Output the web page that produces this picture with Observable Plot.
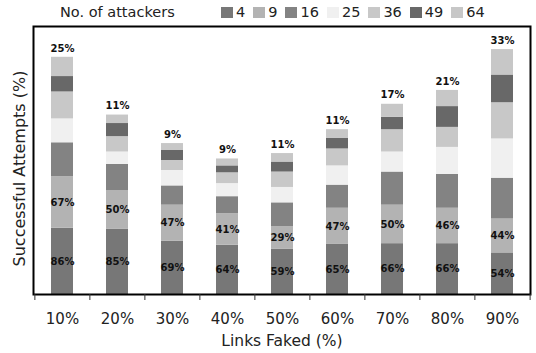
<!DOCTYPE html>
<html>
<head>
<meta charset="utf-8">
<script src="https://cdn.jsdelivr.net/npm/d3@7"></script>
<script src="https://cdn.jsdelivr.net/npm/@observablehq/plot@0.6"></script>
<style>
  html, body { margin: 0; padding: 0; background: #fff; }
  body { width: 536px; height: 353px; overflow: hidden; font-family: "DejaVu Sans", sans-serif; }
  #legend { position: relative; height: 25px; color: #222; font-size: 14.5px; }
  #legend .title { position: absolute; left: 60px; top: 4px; }
  #legend .items { position: absolute; left: 221px; top: 4px; display: flex; align-items: center; }
  #legend .item { display: flex; align-items: center; margin-right: 8px; }
  #legend .sw { width: 12px; height: 11px; margin-right: 3px; }
  svg { display: block; }
</style>
</head>
<body>
<div id="legend"></div>
<div id="chart"></div>
<script>
const categories = ["10%", "20%", "30%", "40%", "50%", "60%", "70%", "80%", "90%"];
const series = ["4", "9", "16", "25", "36", "49", "64"];
const s4  = [86, 85, 69, 64, 59, 65, 66, 66, 54];
const s9  = [67, 50, 47, 41, 29, 47, 50, 46, 44];
const s16 = [44, 34, 25, 22, 31, 30, 43, 44, 53];
const s25 = [31, 16, 20, 17, 20, 25, 26, 35, 51];
const s36 = [35, 20, 13, 14, 20, 22, 29, 26, 47];
const s49 = [20, 17, 13,  9, 13, 14, 16, 27, 36];
const s64 = [25, 11,  9,  9, 11, 11, 17, 21, 33];
const colors = ["#777777", "#b3b3b3", "#838383", "#f0f0f0", "#c8c8c8", "#686868", "#c7c7c7"];
const legendTitle = "No. of attackers";
const xLabel = "Links Faked (%)";
const yLabel = "Successful Attempts (%)";

const seriesValues = [s4, s9, s16, s25, s36, s49, s64];
const data = [];
categories.forEach((c, i) => {
  series.forEach((s, j) => data.push({cat: c, series: s, value: seriesValues[j][i]}));
});

// Legend
const legend = document.getElementById("legend");
const t = document.createElement("span");
t.className = "title"; t.textContent = legendTitle;
legend.appendChild(t);
const items = document.createElement("div");
items.className = "items";
series.forEach((s, j) => {
  const it = document.createElement("span"); it.className = "item";
  const sw = document.createElement("span"); sw.className = "sw"; sw.style.background = colors[j];
  const lb = document.createElement("span"); lb.textContent = s;
  it.appendChild(sw); it.appendChild(lb); items.appendChild(it);
});
legend.appendChild(items);

const W = 536, H = 328, mL = 33, mR = 6, mT = 1, mB = 59;
const step = (W - mL - mR) / categories.length;

const chart = Plot.plot({
  width: W, height: H,
  marginLeft: mL, marginRight: mR, marginTop: mT, marginBottom: mB,
  style: {fontFamily: "DejaVu Sans, sans-serif", background: "white", color: "#222", overflow: "visible"},
  x: {domain: categories, paddingInner: 0.6, paddingOuter: 0.3, label: null},
  y: {domain: [0, 348], axis: null},
  color: {domain: series, range: colors},
  marks: [
    Plot.barY(data, {x: "cat", y: "value", fill: "series"}),
    Plot.text(data, Plot.stackY({
      x: "cat", y: "value", z: "series",
      text: d => (d.series === "4" || d.series === "9") ? d.value + "%" : null,
      fontWeight: "bold", fontSize: 10, fill: "#111"
    })),
    Plot.text(data, Plot.stackY2({
      x: "cat", y: "value", z: "series",
      text: d => d.series === "64" ? d.value + "%" : null,
      fontWeight: "bold", fontSize: 10, fill: "#111", dy: -9
    })),
    Plot.frame({stroke: "#000", strokeWidth: 2}),
    Plot.axisX({tickSize: 6, tickFormat: () => "", dx: -step / 2, label: null, stroke: "#333"}),
    Plot.axisX([categories[categories.length - 1]], {tickSize: 6, tickFormat: () => "", dx: step / 2, label: null, stroke: "#333"}),
    Plot.axisX({tickSize: 0, tickPadding: 19, fontSize: 15, label: null, fill: "#222"}),
    Plot.text([xLabel], {frameAnchor: "bottom", dy: 51, fontSize: 15.5, fill: "#222"}),
    Plot.text([yLabel], {frameAnchor: "left", textAnchor: "middle", rotate: -90, dx: -14, dy: 8, fontSize: 16, fill: "#222"})
  ]
});
document.getElementById("chart").appendChild(chart);
</script>
</body>
</html>
